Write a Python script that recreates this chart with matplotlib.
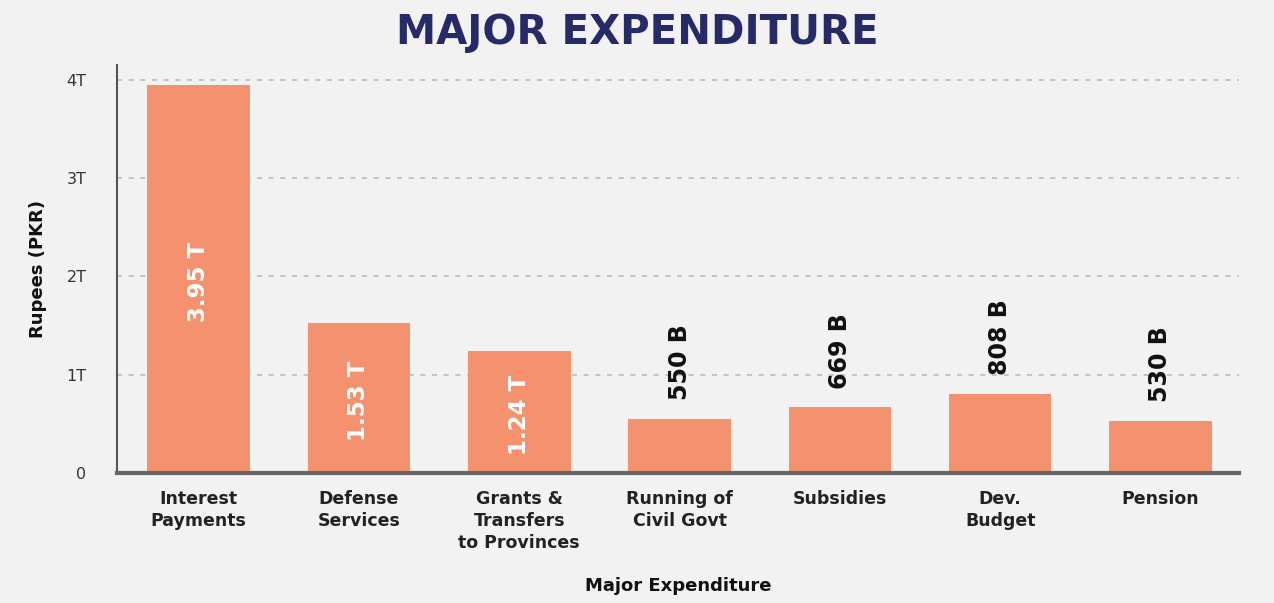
import matplotlib.pyplot as plt

# data
categories = ['Interest\nPayments', 'Defense\nServices', 'Grants &\nTransfers\nto Provinces',
              'Running of\nCivil Govt', 'Subsidies', 'Dev.\nBudget', 'Pension']
values = [3.95, 1.53, 1.24, 0.55, 0.669, 0.808, 0.53]  # trillion PKR
value_labels = ['3.95 T', '1.53 T', '1.24 T', '550 B', '669 B', '808 B', '530 B']
inside = [True, True, True, False, False, False, False]
yticks = [0, 1, 2, 3, 4]
ytick_labels = ['0', '1T', '2T', '3T', '4T']

plt.rcParams['font.family'] = ['DejaVu Sans']

bg = '#f2f2f2'
bar_color = '#f4916f'

fig = plt.figure(figsize=(12.74, 6.03), dpi=100, facecolor=bg)
ax = fig.add_axes([0.0918, 0.2156, 0.8807, 0.6766])
ax.set_facecolor(bg)

x = list(range(len(categories)))
ax.bar(x, values, width=0.64, color=bar_color, zorder=2)

for xi, v, lab, ins in zip(x, values, value_labels, inside):
    if ins:
        ax.text(xi, v / 2 - 0.03, lab, rotation=90, ha='center', va='center',
                color='white', fontsize=16.5, fontweight='bold', zorder=3)
    else:
        ax.text(xi, v + 0.19, lab, rotation=90, ha='center', va='bottom',
                color='#111111', fontsize=17, fontweight='bold', zorder=3)

ax.set_xlim(-0.51, 6.49)
ax.set_ylim(0, 4.15)
ax.set_xticks(x)
ax.set_xticklabels(categories, fontsize=12.5, fontweight='bold', color='#222222',
                   linespacing=1.3, va='top')
ax.set_yticks(yticks)
ax.set_yticklabels(ytick_labels, fontsize=11.5, color='#333333')
ax.tick_params(axis='both', length=0)
ax.tick_params(axis='y', pad=22)
ax.tick_params(axis='x', pad=12)

ax.yaxis.grid(True, linestyle=(0, (3, 4)), color='#bbbbbb', linewidth=1.2, zorder=0)
for t in ax.yaxis.get_gridlines()[:1]:
    t.set_visible(False)

for s in ['top', 'right']:
    ax.spines[s].set_visible(False)
ax.spines['left'].set_color('#555555')
ax.spines['left'].set_linewidth(1.5)
ax.spines['bottom'].set_color('#666666')
ax.spines['bottom'].set_linewidth(3)

ax.set_ylabel('Rupees (PKR)', fontsize=13, fontweight='bold', color='#111111', labelpad=14)
ax.set_xlabel('Major Expenditure', fontsize=13, fontweight='bold', color='#111111', labelpad=18)

fig.text(0.5, 0.945, 'MAJOR EXPENDITURE', ha='center', va='center',
         fontsize=29, fontweight='bold', color='#262a66')

fig.savefig('out.png', dpi=100, facecolor=bg)
